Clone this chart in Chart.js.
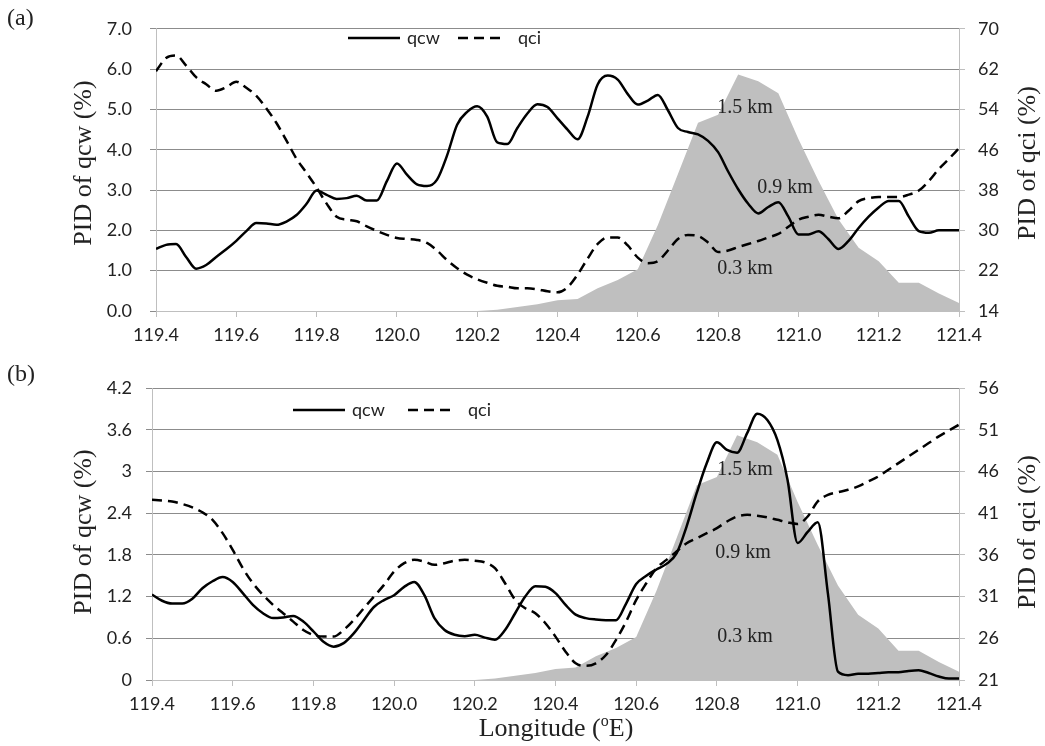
<!DOCTYPE html>
<html>
<head>
<meta charset="utf-8">
<script src="https://cdn.jsdelivr.net/npm/chart.js@4.4.0/dist/chart.umd.min.js"></script>
<style>
  body { margin: 0; background: #fff; }
  canvas { position: absolute; left: 0; }
  #chartA { top: 0; }
  #chartB { top: 345px; }
</style>
</head>
<body>
<canvas id="chartA" width="1045" height="345"></canvas>
<canvas id="chartB" width="1045" height="401"></canvas>
<script>
// longitude of the qcw / qci samples (every 0.025 deg)
const lon = [
  119.400, 119.425, 119.450, 119.475, 119.500, 119.525, 119.550, 119.575, 119.600, 119.625,
  119.650, 119.675, 119.700, 119.725, 119.750, 119.775, 119.800, 119.825, 119.850, 119.875,
  119.900, 119.925, 119.950, 119.975, 120.000, 120.025, 120.050, 120.075, 120.100, 120.125,
  120.150, 120.175, 120.200, 120.225, 120.250, 120.275, 120.300, 120.325, 120.350, 120.375,
  120.400, 120.425, 120.450, 120.475, 120.500, 120.525, 120.550, 120.575, 120.600, 120.625,
  120.650, 120.675, 120.700, 120.725, 120.750, 120.775, 120.800, 120.825, 120.850, 120.875,
  120.900, 120.925, 120.950, 120.975, 121.000, 121.025, 121.050, 121.075, 121.100, 121.125,
  121.150, 121.175, 121.200, 121.225, 121.250, 121.275, 121.300, 121.325, 121.350, 121.375,
  121.400
];

// panel (a)
const qcwA = [
  1.54, 1.64, 1.66, 1.34, 1.05, 1.14, 1.34, 1.53, 1.74, 1.98,
  2.18, 2.17, 2.14, 2.22, 2.38, 2.66, 2.99, 2.88, 2.78, 2.80,
  2.86, 2.74, 2.74, 3.22, 3.66, 3.38, 3.14, 3.10, 3.26, 3.86,
  4.62, 4.94, 5.08, 4.82, 4.18, 4.14, 4.54, 4.90, 5.13, 5.06,
  4.78, 4.50, 4.26, 4.82, 5.62, 5.84, 5.74, 5.38, 5.12, 5.22,
  5.36, 4.98, 4.54, 4.44, 4.38, 4.22, 3.94, 3.46, 3.02, 2.66,
  2.42, 2.58, 2.70, 2.34, 1.90, 1.90, 1.98, 1.78, 1.54, 1.74,
  2.06, 2.34, 2.57, 2.73, 2.73, 2.34, 1.98, 1.94, 2.00, 2.00,
  2.00
];
const qciA = [
  61.6, 64.2, 64.7, 62.7, 60.4, 59.0, 57.7, 58.4, 59.5, 58.3,
  56.7, 54.2, 51.3, 47.8, 44.2, 41.4, 38.5, 35.3, 32.7, 32.1,
  31.8, 30.8, 29.9, 29.1, 28.5, 28.3, 28.1, 27.5, 26.0, 24.1,
  22.5, 21.2, 20.3, 19.6, 19.0, 18.8, 18.5, 18.5, 18.3, 17.9,
  17.7, 18.7, 21.2, 24.4, 27.3, 28.6, 28.6, 27.0, 24.6, 23.5,
  23.9, 26.0, 28.3, 29.1, 28.9, 27.6, 25.7, 26.0, 26.7, 27.3,
  27.9, 28.6, 29.3, 30.7, 32.1, 32.7, 33.1, 32.7, 32.4, 33.9,
  35.8, 36.4, 36.6, 36.6, 36.6, 37.1, 37.9, 39.8, 42.2, 44.2,
  46.3
];

// panel (b)
const qcwB = [
  1.23, 1.14, 1.10, 1.10, 1.17, 1.32, 1.42, 1.48, 1.41, 1.25,
  1.08, 0.96, 0.89, 0.90, 0.92, 0.84, 0.70, 0.55, 0.48, 0.53,
  0.67, 0.86, 1.05, 1.15, 1.22, 1.34, 1.41, 1.22, 0.89, 0.72,
  0.65, 0.63, 0.65, 0.61, 0.58, 0.72, 0.96, 1.20, 1.35, 1.34,
  1.25, 1.08, 0.94, 0.89, 0.87, 0.86, 0.86, 1.10, 1.38, 1.50,
  1.59, 1.67, 1.82, 2.21, 2.69, 3.12, 3.42, 3.31, 3.27, 3.55,
  3.83, 3.74, 3.45, 2.88, 1.97, 2.13, 2.27, 1.25, 0.12, 0.07,
  0.09, 0.09, 0.10, 0.11, 0.11, 0.13, 0.14, 0.10, 0.05, 0.02,
  0.02
];
const qciB = [
  42.6, 42.5, 42.4, 42.1, 41.7, 41.1, 40.2, 38.6, 36.6, 34.4,
  32.6, 31.2, 30.0, 29.0, 28.0, 27.0, 26.4, 26.2, 26.2, 27.0,
  28.2, 29.6, 31.0, 32.4, 34.0, 35.0, 35.4, 35.2, 34.8, 35.0,
  35.3, 35.4, 35.3, 35.1, 34.4, 32.6, 30.6, 29.6, 29.0, 27.8,
  26.2, 24.4, 23.0, 22.7, 23.0, 24.0, 25.8, 28.0, 30.6, 32.6,
  34.4, 35.4, 36.4, 37.4, 38.0, 38.6, 39.2, 40.0, 40.6, 40.8,
  40.7, 40.5, 40.2, 39.9, 39.7, 40.6, 42.4, 43.2, 43.5, 43.8,
  44.2, 44.8, 45.4, 46.2, 47.0, 47.8, 48.6, 49.4, 50.2, 50.9,
  51.6
];

// terrain height (km) every 0.05 deg, same in both panels
const terrainLon = [
  119.40, 119.45, 119.50, 119.55, 119.60, 119.65, 119.70, 119.75, 119.80, 119.85,
  119.90, 119.95, 120.00, 120.05, 120.10, 120.15, 120.20, 120.25, 120.30, 120.35,
  120.40, 120.45, 120.50, 120.55, 120.60, 120.65, 120.70, 120.75, 120.80, 120.85,
  120.90, 120.95, 121.00, 121.05, 121.10, 121.15, 121.20, 121.25, 121.30, 121.35,
  121.40
];
const terrainKm = [
  0, 0, 0, 0, 0, 0, 0, 0, 0, 0,
  0, 0, 0, 0, 0, 0, 0, 0.01, 0.03, 0.05,
  0.08, 0.09, 0.17, 0.23, 0.31, 0.64, 1.02, 1.40, 1.46, 1.76,
  1.71, 1.62, 1.28, 0.97, 0.68, 0.47, 0.37, 0.21, 0.21, 0.13,
  0.06
];

// axes ticks
const xTicks = [119.4, 119.6, 119.8, 120.0, 120.2, 120.4, 120.6, 120.8, 121.0, 121.2, 121.4];
const qcwTicksA = [0, 1, 2, 3, 4, 5, 6, 7];
const qcwLabelsA = ['0.0', '1.0', '2.0', '3.0', '4.0', '5.0', '6.0', '7.0'];
const qciTicksA = [14, 22, 30, 38, 46, 54, 62, 70];
const qcwTicksB = [0, 0.6, 1.2, 1.8, 2.4, 3.0, 3.6, 4.2];
const qcwLabelsB = ['0', '0.6', '1.2', '1.8', '2.4', '3', '3.6', '4.2'];
const qciTicksB = [21, 26, 31, 36, 41, 46, 51, 56];
const kmLabels = ['1.5 km', '0.9 km', '0.3 km'];
const kmValues = [1.5, 0.9, 0.3];

const GRID = '#8c8c8c';
const AXIS = '#bfbfbf';
const TEXT = '#222222';
const DASH = [10, 6];
const SANS = 'Lato, "Open Sans", sans-serif';
const SERIF = '"Liberation Serif", "DejaVu Serif", serif';

function pts(xs, ys) {
  return xs.map((x, i) => ({ x: x, y: ys[i] }));
}

function fixTicks(values) {
  return scale => { scale.ticks = values.map(v => ({ value: v })); };
}

function drawVertical(ctx, text, x, y) {
  ctx.save();
  ctx.translate(x, y);
  ctx.rotate(-Math.PI / 2);
  ctx.textAlign = 'center';
  ctx.textBaseline = 'middle';
  ctx.fillText(text, 0, 0);
  ctx.restore();
}

function makePanel(id, p) {
  const decor = {
    id: 'decor',
    afterDraw(chart) {
      const ctx = chart.ctx;
      const xs = chart.scales.x;
      const ts = chart.scales.yT;
      ctx.save();
      ctx.fillStyle = TEXT;
      ctx.font = '24px ' + SERIF;
      ctx.textAlign = 'left';
      ctx.textBaseline = 'middle';
      ctx.fillText(p.tag, 7, p.tagY);
      ctx.font = '26px ' + SERIF;
      drawVertical(ctx, 'PID of qcw (%)', 84, p.titleY);
      drawVertical(ctx, 'PID of qci (%)', 1028, p.titleY);

      // km labels on the terrain
      ctx.font = '20px ' + SERIF;
      ctx.textAlign = 'center';
      kmLabels.forEach((t, i) => {
        ctx.fillText(t, xs.getPixelForValue(p.kmLon[i]), ts.getPixelForValue(kmValues[i]) - 2);
      });

      // legend
      const L = p.legend;
      ctx.strokeStyle = '#000';
      ctx.lineWidth = 2.5;
      ctx.beginPath();
      ctx.moveTo(L.x1, L.y); ctx.lineTo(L.x1 + 52, L.y);
      ctx.stroke();
      ctx.setLineDash(DASH);
      ctx.beginPath();
      ctx.moveTo(L.x2, L.y); ctx.lineTo(L.x2 + 46, L.y);
      ctx.stroke();
      ctx.setLineDash([]);
      ctx.font = '18px ' + SANS;
      ctx.textAlign = 'left';
      ctx.fillText('qcw', L.x1 + 59, L.y);
      ctx.fillText('qci', L.x2 + 60, L.y);

      if (p.xTitle) {
        ctx.font = '26px ' + SERIF;
        ctx.textAlign = 'left';
        const a = 'Longitude (', b = 'o', c = 'E)';
        const wa = ctx.measureText(a).width;
        const wc = ctx.measureText(c).width;
        ctx.font = '16px ' + SERIF;
        const wb = ctx.measureText(b).width;
        const x0 = 556 - (wa + wb + wc) / 2;
        const y0 = chart.height - 17;
        ctx.font = '26px ' + SERIF;
        ctx.fillText(a, x0, y0);
        ctx.font = '16px ' + SERIF;
        ctx.fillText(b, x0 + wa, y0 - 7);
        ctx.font = '26px ' + SERIF;
        ctx.fillText(c, x0 + wa + wb, y0);
      }
      ctx.restore();
    }
  };

  return new Chart(document.getElementById(id), {
    type: 'line',
    data: {
      datasets: [
        {
          label: 'qcw', data: pts(lon, p.qcw), yAxisID: 'y', order: 1,
          borderColor: '#000', borderWidth: 2.5, pointRadius: 0,
          cubicInterpolationMode: 'monotone', fill: false
        },
        {
          label: 'qci', data: pts(lon, p.qci), yAxisID: 'y2', order: 2,
          borderColor: '#000', borderWidth: 2.5, borderDash: DASH, pointRadius: 0,
          cubicInterpolationMode: 'monotone', fill: false
        },
        {
          label: 'terrain', data: pts(terrainLon, terrainKm), yAxisID: 'yT', order: 3,
          borderWidth: 0, borderColor: 'rgba(0,0,0,0)', backgroundColor: '#bfbfbf',
          pointRadius: 0, tension: 0, fill: 'origin'
        }
      ]
    },
    options: {
      responsive: false,
      animation: false,
      layout: { padding: { top: p.top, left: 0, right: 0, bottom: 0 } },
      plugins: { legend: { display: false }, tooltip: { enabled: false } },
      scales: {
        x: {
          type: 'linear', min: 119.4, max: 121.4,
          afterBuildTicks: fixTicks(xTicks),
          afterFit: s => { s.height = p.xH; },
          ticks: {
            callback: v => v.toFixed(1), color: TEXT, padding: 7,
            font: { family: SANS, size: 18 }, maxRotation: 0, autoSkip: false
          },
          grid: { drawOnChartArea: false, tickLength: 6, color: AXIS },
          border: { color: AXIS }
        },
        y: {
          position: 'left', min: 0, max: p.qcwTicks[p.qcwTicks.length - 1],
          afterBuildTicks: fixTicks(p.qcwTicks),
          afterFit: s => { s.width = p.left; },
          ticks: {
            callback: v => p.qcwLabels[p.qcwTicks.indexOf(v)],
            color: TEXT, padding: p.yPad, font: { family: SANS, size: 18 }
          },
          grid: { color: GRID, tickLength: 6 },
          border: { color: AXIS }
        },
        y2: {
          position: 'right', min: p.qciTicks[0], max: p.qciTicks[p.qciTicks.length - 1],
          afterBuildTicks: fixTicks(p.qciTicks),
          afterFit: s => { s.width = 86; },
          ticks: { color: TEXT, padding: 13, font: { family: SANS, size: 18 } },
          grid: { drawOnChartArea: false, color: AXIS, tickLength: 6 },
          border: { color: AXIS }
        },
        yT: { display: false, min: 0, max: 2.1 }
      }
    },
    plugins: [decor]
  });
}

makePanel('chartA', {
  qcw: qcwA, qci: qciA,
  qcwTicks: qcwTicksA, qcwLabels: qcwLabelsA, qciTicks: qciTicksA,
  top: 19, left: 156, xH: 34, yPad: 18,
  tag: '(a)', tagY: 19, titleY: 163,
  kmLon: [120.867, 120.967, 120.867],
  legend: { x1: 348, x2: 458, y: 38 },
  xTitle: false
});

makePanel('chartB', {
  qcw: qcwB, qci: qciB,
  qcwTicks: qcwTicksB, qcwLabels: qcwLabelsB, qciTicks: qciTicksB,
  top: 43, left: 152, xH: 66, yPad: 14,
  tag: '(b)', tagY: 30, titleY: 187,
  kmLon: [120.87, 120.865, 120.87],
  legend: { x1: 293, x2: 408, y: 65 },
  xTitle: true
});
</script>
</body>
</html>
